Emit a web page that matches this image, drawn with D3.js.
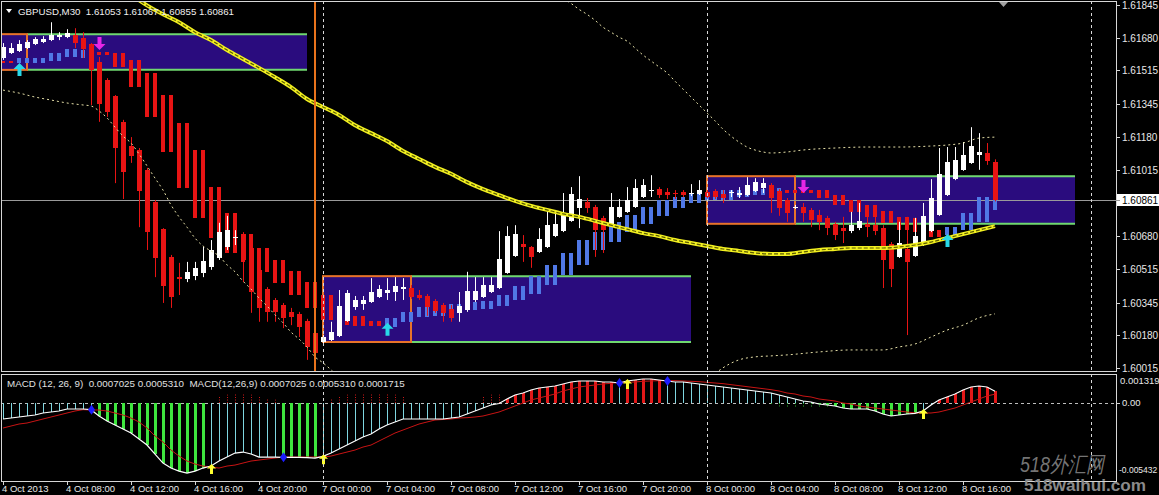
<!DOCTYPE html>
<html><head><meta charset="utf-8">
<script src="https://cdn.jsdelivr.net/npm/d3@7/dist/d3.min.js"></script>
<style>
html,body{margin:0;padding:0;background:#000;overflow:hidden}
svg{display:block}
text{font-family:"Liberation Sans",Arial,sans-serif;white-space:pre}
</style></head><body>
<svg id="chart" width="1159" height="495"></svg>
<script>
// ================= DATA =================
const symbolHeader = "GBPUSD,M30  1.61053 1.61067 1.60855 1.60861";
const macdHeader = "MACD (12, 26, 9)  0.0007025 0.0005310  MACD(12,26,9) 0.0007025 0.0005310 0.0001715";
const timeTickIdx = [0,8,16,24,32,40,48,56,64,72,80,88,96,104,112,120];
const timeTickLabels = ["4 Oct 2013","4 Oct 08:00","4 Oct 12:00","4 Oct 16:00","4 Oct 20:00","7 Oct 00:00","7 Oct 04:00","7 Oct 08:00","7 Oct 12:00","7 Oct 16:00","7 Oct 20:00","8 Oct 00:00","8 Oct 04:00","8 Oct 08:00","8 Oct 12:00","8 Oct 16:00"];
const priceTicks = [1.61845,1.61680,1.61515,1.61345,1.61180,1.61015,1.60680,1.60515,1.60345,1.60180,1.60015];
const lastPrice = 1.60861;
const macdTickTop = 0.001319, macdTickBottomLabel = "-0.005432";

// M30 candles, bar 0 = 4 Oct 04:00 ... bar 124 = 8 Oct 18:00
const open = [1.61578,1.61603,1.61613,1.61628,1.61648,1.61658,1.61668,1.61683,1.61683,1.61693,
1.61678,1.61648,1.61558,1.61466,1.61386,1.61256,1.61134,1.61114,1.61014,1.60852,
1.60715,1.60575,1.60473,1.60463,1.60478,1.60495,1.60525,1.60570,1.60625,1.60670,
1.60690,1.60620,1.60510,1.60413,1.60358,1.60333,1.60298,1.60288,1.60253,1.60191,
1.60146,1.60156,1.60176,1.60253,1.60323,1.60338,1.60348,1.60373,1.60393,1.60398,
1.60413,1.60418,1.60383,1.60378,1.60353,1.60333,1.60313,1.60293,1.60308,1.60358,
1.60373,1.60398,1.60418,1.60495,1.60580,1.60640,1.60625,1.60600,1.60625,1.60680,
1.60705,1.60757,1.60822,1.60852,1.60827,1.60772,1.60742,1.60777,1.60802,1.60827,
1.60877,1.60907,1.60917,1.60902,1.60897,1.60902,1.60892,1.60892,1.60902,1.60907,
1.60892,1.60897,1.60887,1.60887,1.60907,1.60922,1.60937,1.60907,1.60862,1.60822,
1.60827,1.60812,1.60787,1.60772,1.60742,1.60720,1.60705,1.60720,1.60742,1.60735,
1.60720,1.60640,1.60575,1.60615,1.60580,1.60635,1.60705,1.60787,1.60887,1.60967,
1.61014,1.61049,1.61089,1.61099,1.61053];
const high = [1.61653,1.61653,1.61668,1.61668,1.61683,1.61688,1.61758,1.61708,1.61723,1.61728,
1.61708,1.61653,1.61583,1.61476,1.61391,1.61266,1.61179,1.61124,1.61024,1.60862,
1.60720,1.60585,1.60545,1.60550,1.60550,1.60625,1.60660,1.60747,1.60782,1.60710,
1.60700,1.60630,1.60520,1.60423,1.60368,1.60343,1.60318,1.60298,1.60263,1.60201,
1.60181,1.60248,1.60408,1.60408,1.60378,1.60378,1.60468,1.60433,1.60468,1.60473,
1.60468,1.60433,1.60408,1.60388,1.60363,1.60343,1.60333,1.60398,1.60500,1.60473,
1.60473,1.60473,1.60705,1.60730,1.60735,1.60685,1.60630,1.60720,1.60812,1.60797,
1.60897,1.60927,1.60982,1.60872,1.60837,1.60782,1.60897,1.60867,1.60927,1.60967,
1.60967,1.60987,1.60927,1.60922,1.60912,1.60912,1.60942,1.60962,1.60912,1.60917,
1.60912,1.60912,1.60927,1.60977,1.60972,1.60972,1.60947,1.60917,1.60872,1.60837,
1.60847,1.60822,1.60812,1.60782,1.60752,1.60777,1.60802,1.60847,1.60837,1.60837,
1.60735,1.60650,1.60752,1.60777,1.60772,1.60847,1.60967,1.61124,1.61129,1.61129,
1.61154,1.61229,1.61199,1.61149,1.61067];
const low = [1.61568,1.61598,1.61608,1.61623,1.61643,1.61653,1.61663,1.61668,1.61678,1.61628,
1.61578,1.61341,1.61256,1.61281,1.60947,1.60867,1.61049,1.60725,1.60610,1.60473,
1.60343,1.60318,1.60383,1.60448,1.60458,1.60473,1.60510,1.60560,1.60610,1.60635,
1.60448,1.60293,1.60248,1.60248,1.60248,1.60216,1.60231,1.60171,1.60056,1.60041,
1.60131,1.60151,1.60171,1.60248,1.60308,1.60308,1.60343,1.60368,1.60358,1.60353,
1.60358,1.60363,1.60358,1.60278,1.60293,1.60248,1.60248,1.60248,1.60298,1.60348,
1.60368,1.60393,1.60413,1.60490,1.60575,1.60550,1.60520,1.60595,1.60620,1.60675,
1.60700,1.60752,1.60720,1.60797,1.60575,1.60595,1.60730,1.60772,1.60797,1.60822,
1.60872,1.60877,1.60872,1.60867,1.60867,1.60877,1.60882,1.60887,1.60872,1.60867,
1.60847,1.60877,1.60872,1.60882,1.60902,1.60897,1.60797,1.60782,1.60752,1.60817,
1.60752,1.60725,1.60710,1.60685,1.60660,1.60645,1.60695,1.60710,1.60675,1.60685,
1.60418,1.60423,1.60570,1.60181,1.60575,1.60630,1.60700,1.60782,1.60882,1.60962,
1.61009,1.61044,1.61014,1.61039,1.60855];
const close = [1.61633,1.61628,1.61648,1.61658,1.61673,1.61673,1.61693,1.61693,1.61703,1.61653,
1.61623,1.61518,1.61346,1.61306,1.61124,1.61004,1.61084,1.60907,1.60700,1.60570,
1.60428,1.60373,1.60463,1.60500,1.60520,1.60555,1.60610,1.60700,1.60710,1.60675,
1.60560,1.60398,1.60318,1.60298,1.60298,1.60268,1.60273,1.60221,1.60121,1.60091,
1.60171,1.60196,1.60328,1.60393,1.60358,1.60358,1.60398,1.60413,1.60408,1.60428,
1.60423,1.60373,1.60368,1.60323,1.60303,1.60293,1.60268,1.60328,1.60403,1.60403,
1.60433,1.60433,1.60565,1.60680,1.60690,1.60625,1.60575,1.60665,1.60735,1.60742,
1.60797,1.60892,1.60867,1.60822,1.60710,1.60710,1.60827,1.60827,1.60862,1.60922,
1.60937,1.60912,1.60887,1.60887,1.60892,1.60887,1.60897,1.60912,1.60877,1.60877,
1.60872,1.60902,1.60897,1.60937,1.60952,1.60947,1.60872,1.60822,1.60797,1.60827,
1.60797,1.60762,1.60752,1.60720,1.60685,1.60705,1.60735,1.60757,1.60725,1.60705,
1.60560,1.60515,1.60645,1.60550,1.60680,1.60782,1.60872,1.60994,1.61054,1.61064,
1.61089,1.61134,1.61104,1.61059,1.60861];

// H1 trend bars (one per pair of M30 bars)
const trendTop = [1.61563,1.61578,1.61578,1.61603,1.61623,1.61618,1.61608,1.61603,1.61568,1.61503,1.61391,1.61251,1.61114,1.60927,1.60797,1.60690,1.60620,1.60560,1.60505,1.60448,1.60383,1.60283,1.60278,1.60253,1.60268,1.60298,1.60323,1.60333,1.60338,1.60348,1.60353,1.60383,1.60428,1.60478,1.60535,1.60595,1.60660,1.60700,1.60752,1.60787,1.60827,1.60862,1.60877,1.60892,1.60902,1.60912,1.60912,1.60917,1.60922,1.60912,1.60912,1.60912,1.60887,1.60862,1.60837,1.60807,1.60777,1.60772,1.60710,1.60725,1.60797,1.60877,1.60947];
const trendBottom = [1.61553,1.61553,1.61553,1.61563,1.61583,1.61578,1.61593,1.61533,1.61431,1.61281,1.61104,1.60922,1.60772,1.60670,1.60595,1.60550,1.60500,1.60443,1.60383,1.60318,1.60258,1.60233,1.60226,1.60226,1.60221,1.60248,1.60273,1.60278,1.60298,1.60308,1.60313,1.60328,1.60358,1.60388,1.60433,1.60483,1.60535,1.60610,1.60650,1.60700,1.60742,1.60782,1.60822,1.60847,1.60862,1.60862,1.60877,1.60887,1.60902,1.60897,1.60897,1.60872,1.60837,1.60802,1.60777,1.60747,1.60710,1.60700,1.60675,1.60685,1.60710,1.60752,1.60812];
const trendUp = [0,1,1,1,1,1,0,0,0,0,0,0,0,0,0,0,0,0,0,0,0,0,0,0,1,1,1,1,1,1,1,1,1,1,1,1,1,1,1,1,1,1,1,1,1,1,1,1,1,0,0,0,0,0,0,0,0,0,0,1,1,1,1];

// moving average (sampled every 2 bars from bar 16)
const maIdx = [16,18,20,22,24,26,28,30,32,34,36,38,40,42,44,46,48,50,52,54,56,58,60,62,64,66,68,70,72,74,76,78,80,82,84,86,88,90,92,94,96,98,100,102,104,106,108,110,112,114,116,118,120,122,124];
const maVal = [1.61898,1.61843,1.61798,1.61758,1.61708,1.61668,1.61618,1.61573,1.61528,1.61481,1.61431,1.61371,1.61331,1.61291,1.61239,1.61199,1.61159,1.61109,1.61069,1.61029,1.60994,1.60952,1.60917,1.60887,1.60857,1.60832,1.60812,1.60792,1.60777,1.60757,1.60735,1.60715,1.60695,1.60680,1.60660,1.60645,1.60630,1.60615,1.60605,1.60595,1.60590,1.60590,1.60600,1.60610,1.60615,1.60620,1.60620,1.60620,1.60625,1.60635,1.60650,1.60670,1.60690,1.60710,1.60730];

// dotted bands
const bandLowAIdx = [0,2,4,6,8,10,11,12,13,14,15,16,17,18,19,20,21,22,23,24,25,26,27,28,29,30,31,32,33,34,35,36,37,38,39,40,41,42];
const bandLowAVal = [1.61416,1.61401,1.61381,1.61366,1.61351,1.61341,1.61336,1.61311,1.61276,1.61229,1.61184,1.61149,1.61094,1.61034,1.60972,1.60912,1.60837,1.60777,1.60725,1.60670,1.60630,1.60605,1.60580,1.60535,1.60500,1.60453,1.60413,1.60368,1.60328,1.60283,1.60243,1.60196,1.60161,1.60121,1.60071,1.60041,1.60006,1.59966];
const bandUpIdx = [70,71,72,73,74,75,76,77,78,79,80,81,82,83,84,85,86,87,88,89,90,91,92,93,94,95,96,98,100,104,108,112,116,118,120,122,124];
const bandUpVal = [1.61878,1.61853,1.61823,1.61798,1.61768,1.61733,1.61708,1.61683,1.61663,1.61628,1.61593,1.61563,1.61533,1.61503,1.61461,1.61421,1.61381,1.61341,1.61301,1.61261,1.61219,1.61184,1.61154,1.61129,1.61114,1.61104,1.61099,1.61104,1.61114,1.61124,1.61129,1.61129,1.61134,1.61139,1.61149,1.61174,1.61179];
const bandLowCIdx = [89,90,92,94,96,98,102,106,110,112,114,116,118,120,122,124];
const bandLowCVal = [1.59986,1.60016,1.60056,1.60071,1.60076,1.60081,1.60096,1.60106,1.60106,1.60121,1.60136,1.60171,1.60206,1.60231,1.60268,1.60288];

// daily range boxes
const boxStartIdx = [-8,40,88];
const boxRangeEndIdx = [3,51,99];
const boxEndIdx = [38,86,134];
const boxHigh = [1.61698,1.60478,1.60982];
const boxLow = [1.61518,1.60146,1.60742];
const daySepIdx = [40,88,136];
const orangeLineIdx = 39;

// signal arrows on price
const upArrowIdx = [2,48,118];
const upArrowPrice = [1.61553,1.60243,1.60690];
const downArrowIdx = [12,100];
const downArrowPrice = [1.61618,1.60897];

// MACD (units of 1e-4)
const macd = [-9.6,-9.0,-8.4,-7.8,-7.2,-6.0,-5.4,-4.8,-3.6,-3.6,
-3.6,-4.0,-7.8,-10.8,-13.2,-15.6,-18.0,-21.6,-25.2,-30.6,
-36.0,-39.0,-40.8,-42.0,-40.8,-39.0,-37.8,-34.8,-32.4,-30.0,
-29.4,-30.6,-32.4,-32.4,-32.4,-32.6,-32.6,-32.6,-32.8,-33.0,
-32.0,-30.0,-27.6,-25.2,-22.8,-20.4,-18.6,-15.6,-13.2,-11.4,
-9.6,-9.6,-9.6,-9.6,-9.6,-9.6,-9.0,-8.4,-6.6,-4.8,
-3.0,-1.2,-0.3,2.4,4.8,6.0,7.8,9.0,9.6,10.2,
11.4,12.6,13.2,13.2,13.2,12.6,12.6,12.0,13.2,13.8,
14.4,14.4,13.8,13.2,12.6,12.6,12.0,11.4,10.8,10.2,
9.6,9.0,8.4,7.8,7.2,6.6,6.0,4.8,3.6,2.4,
1.2,0.6,-0.6,-1.2,-1.8,-3.0,-3.6,-3.6,-3.6,-4.8,
-6.6,-7.8,-7.2,-6.6,-6.2,-4.8,-1.2,1.8,3.6,5.4,
7.8,9.6,10.2,9.6,7.025];
const signal = [-15.0,-13.8,-12.6,-12.0,-10.8,-9.6,-8.4,-7.2,-6.0,-4.8,
-4.0,-4.2,-4.2,-4.8,-6.0,-7.2,-9.0,-11.4,-15.0,-19.8,
-23.4,-28.2,-31.8,-34.8,-36.6,-37.8,-38.4,-39.0,-37.8,-37.2,
-36.0,-34.8,-34.2,-33.6,-33.0,-32.4,-32.4,-32.4,-32.4,-32.4,
-32.4,-31.8,-30.6,-29.4,-28.2,-26.4,-25.2,-22.8,-20.4,-18.0,
-16.2,-14.4,-12.6,-11.4,-10.2,-9.9,-9.6,-9.0,-8.8,-8.4,
-7.8,-6.6,-5.4,-3.6,-1.8,0.0,1.8,3.0,4.2,5.4,
7.2,8.4,9.6,10.2,10.8,11.4,11.8,12.3,12.4,12.6,
13.0,13.2,13.4,13.4,13.4,13.2,13.0,12.8,12.4,12.0,
11.6,11.0,10.4,9.8,9.2,8.6,8.0,7.2,6.0,5.4,
4.2,3.6,2.4,1.8,1.2,0.0,-0.6,-1.8,-2.4,-3.0,
-3.6,-4.2,-4.8,-5.4,-6.0,-6.0,-6.0,-5.4,-4.2,-3.0,
-1.2,0.6,2.4,4.2,5.31];
const osmaIdx = [27,28,29,30,31,32,33,34,41,42,43,44,45,46,47,48,49,50,60,61,62,96,97,98,99,100,101,102,103];
const osmaVal = [4,5,6,6,5,4,3,2,3,4,5,6,6,6,6,6,5,4,4,5,5,-1.5,-2,-2.5,-2.5,-3,-3,-3,-3];
const crossDownIdx = [11,35,77,83];
const crossUpIdx = [26,40,78,115];

// ================= DRAW =================
const svg = d3.select("#chart");
const N = open.length;
const mainL = 1, mainR = 1116, mainT = 1, mainB = 371;
const macdT = 374, macdB = 481;

const x = d3.scaleLinear().domain([0, 124]).range([3, 995]);
const px = i => Math.round(x(i));
const y = d3.scaleLinear().domain([1.60015, 1.61845]).range([368, 5]);
const ym = d3.scaleLinear().domain([0, macdTickTop * 1e4]).range([403, 381]);

svg.append("rect").attr("width", 1159).attr("height", 495).attr("fill", "#000");

const defs = svg.append("defs");
defs.append("clipPath").attr("id", "clipMain").append("rect")
  .attr("x", mainL).attr("y", mainT).attr("width", mainR - mainL).attr("height", mainB - mainT);
defs.append("clipPath").attr("id", "clipMacd").append("rect")
  .attr("x", mainL).attr("y", macdT).attr("width", mainR - mainL).attr("height", macdB - macdT);

const gMain = svg.append("g").attr("clip-path", "url(#clipMain)");
const gMacd = svg.append("g").attr("clip-path", "url(#clipMacd)");

// ---- boxes ----
const boxes = d3.range(boxStartIdx.length);
gMain.selectAll("rect.box").data(boxes).join("rect")
  .attr("x", k => x(boxStartIdx[k])).attr("y", k => y(boxHigh[k]))
  .attr("width", k => x(boxEndIdx[k]) - x(boxStartIdx[k]))
  .attr("height", k => y(boxLow[k]) - y(boxHigh[k]))
  .attr("fill", "#2a0c7e");
[boxHigh, boxLow].forEach(arr => {
  gMain.selectAll(null).data(boxes).join("line")
    .attr("x1", k => x(boxRangeEndIdx[k])).attr("x2", k => x(boxEndIdx[k]))
    .attr("y1", k => y(arr[k])).attr("y2", k => y(arr[k]))
    .attr("stroke", "#6fd86f").attr("stroke-width", 2);
});
gMain.selectAll("rect.obox").data(boxes).join("rect")
  .attr("x", k => x(boxStartIdx[k])).attr("y", k => y(boxHigh[k]))
  .attr("width", k => x(boxRangeEndIdx[k]) - x(boxStartIdx[k]))
  .attr("height", k => y(boxLow[k]) - y(boxHigh[k]))
  .attr("fill", "none").attr("stroke", "#e8732a").attr("stroke-width", 2);

// ---- current price line ----
gMain.append("line").attr("x1", mainL).attr("x2", mainR)
  .attr("y1", Math.round(y(lastPrice)) + 0.5).attr("y2", Math.round(y(lastPrice)) + 0.5)
  .attr("stroke", "#9a9a9a").attr("stroke-width", 1);

// ---- period separators ----
daySepIdx.forEach(i => {
  [[mainT, mainB], [macdT, macdB]].forEach(([a, b]) => {
    svg.append("line").attr("x1", px(i) + 0.5).attr("x2", px(i) + 0.5).attr("y1", a).attr("y2", b)
      .attr("stroke", "#d8d8d8").attr("stroke-dasharray", "3,3").attr("stroke-width", 1);
  });
});

// ---- trend bars (H1) ----
const trendBars = [];
trendTop.forEach((t, k) => {
  [2 * k, 2 * k + 1].forEach(i => { if (i < N) trendBars.push({ i, k }); });
});
gMain.selectAll("rect.tb").data(trendBars).join("rect")
  .attr("x", d => px(d.i) - 2).attr("width", 4)
  .attr("y", d => Math.round(y(trendTop[d.k])))
  .attr("height", d => Math.max(2, Math.round(y(trendBottom[d.k]) - y(trendTop[d.k]))))
  .attr("fill", d => trendUp[d.k] ? "#5078e6" : "#e81414")
  .attr("shape-rendering", "crispEdges");

// ---- candles ----
const bars = d3.range(N);
const isUp = i => close[i] >= open[i];
gMain.selectAll("line.wick").data(bars).join("line")
  .attr("x1", i => px(i) + 0.5).attr("x2", i => px(i) + 0.5)
  .attr("y1", i => y(high[i])).attr("y2", i => y(low[i]))
  .attr("stroke", i => isUp(i) ? "#ffffff" : "#e81414").attr("stroke-width", 1);
gMain.selectAll("rect.body").data(bars).join("rect")
  .attr("x", i => px(i) - 2).attr("width", 5)
  .attr("y", i => Math.round(y(Math.max(open[i], close[i]))))
  .attr("height", i => Math.max(1, Math.round(Math.abs(y(open[i]) - y(close[i])))))
  .attr("fill", i => isUp(i) ? "#ffffff" : "#e81414")
  .attr("shape-rendering", "crispEdges");

// ---- dotted bands ----
[[bandLowAIdx, bandLowAVal], [bandUpIdx, bandUpVal], [bandLowCIdx, bandLowCVal]].forEach(([ix, vs]) => {
  gMain.append("path")
    .attr("d", d3.line().x((d, j) => x(ix[j])).y(d => y(d)).curve(d3.curveMonotoneX)(vs))
    .attr("fill", "none").attr("stroke", "#e6e0a8").attr("stroke-width", 1).attr("stroke-dasharray", "2,3");
});

// ---- moving average ----
const maPath = d3.line().x((d, j) => x(maIdx[j])).y(d => y(d)).curve(d3.curveMonotoneX)(maVal);
gMain.append("path").attr("d", maPath).attr("fill", "none").attr("stroke", "#f2f020").attr("stroke-width", 4);
gMain.append("path").attr("d", maPath).attr("fill", "none").attr("stroke", "#5a5a00").attr("stroke-width", 1.2).attr("stroke-dasharray", "4,2");

// ---- orange vertical line ----
gMain.append("line").attr("x1", px(orangeLineIdx)).attr("x2", px(orangeLineIdx))
  .attr("y1", mainT).attr("y2", mainB).attr("stroke", "#e8731c").attr("stroke-width", 2);

// ---- arrows ----
const upArrow = "M0,0 L6,6 L2,6 L2,13 L-2,13 L-2,6 L-6,6 Z";
const dnArrow = "M0,0 L6,-6 L2,-6 L2,-13 L-2,-13 L-2,-6 L-6,-6 Z";
upArrowIdx.forEach((i, j) => {
  gMain.append("path").attr("d", upArrow).attr("transform", `translate(${px(i) + 0.5},${y(upArrowPrice[j])})`).attr("fill", "#28d8e8");
});
downArrowIdx.forEach((i, j) => {
  gMain.append("path").attr("d", dnArrow).attr("transform", `translate(${px(i) + 0.5},${y(downArrowPrice[j])})`).attr("fill", "#e626e6");
});

// ---- MACD panel ----
gMacd.append("line").attr("x1", mainL).attr("x2", mainR).attr("y1", ym(0) + 0.5).attr("y2", ym(0) + 0.5)
  .attr("stroke", "#bdbdbd").attr("stroke-dasharray", "3,3");
// OsMA dotted
gMacd.selectAll("line.osma").data(osmaIdx).join("line")
  .attr("x1", i => px(i) + 0.5).attr("x2", i => px(i) + 0.5)
  .attr("y1", ym(0)).attr("y2", (i, j) => ym(osmaVal[j]))
  .attr("stroke", (i, j) => osmaVal[j] > 0 ? "#d01818" : "#2fb82f").attr("stroke-dasharray", "1,1.5");
// histogram
const histKind = i => {
  const v = macd[i], s = signal[i];
  if (v > 0 && v > s) return "red";
  if (v < 0 && v < s) return "green";
  return "thin";
};
gMacd.selectAll("rect.hist").data(bars.filter(i => histKind(i) !== "thin")).join("rect")
  .attr("x", i => px(i) - 1).attr("width", 3)
  .attr("y", i => Math.min(ym(0), ym(macd[i])))
  .attr("height", i => Math.abs(ym(macd[i]) - ym(0)))
  .attr("fill", i => histKind(i) === "red" ? "#e21818" : "#3ee63e")
  .attr("shape-rendering", "crispEdges");
gMacd.selectAll("line.hist").data(bars.filter(i => histKind(i) === "thin")).join("line")
  .attr("x1", i => px(i) + 0.5).attr("x2", i => px(i) + 0.5)
  .attr("y1", ym(0)).attr("y2", i => ym(macd[i]))
  .attr("stroke", "#7fd6e0").attr("stroke-width", 1);
// lines
gMacd.append("path").attr("d", d3.line().x((d, i) => x(i)).y(d => ym(d))(signal))
  .attr("fill", "none").attr("stroke", "#c81414").attr("stroke-width", 1);
gMacd.append("path").attr("d", d3.line().x((d, i) => x(i)).y(d => ym(d))(macd))
  .attr("fill", "none").attr("stroke", "#ffffff").attr("stroke-width", 1.2);
// cross markers
crossDownIdx.forEach(i => {
  gMacd.append("path").attr("d", "M0,-5 L3.5,0 L0,5 L-3.5,0 Z")
    .attr("transform", `translate(${px(i) + 0.5},${ym(macd[i])})`).attr("fill", "#1c1cff");
});
crossUpIdx.forEach(i => {
  gMacd.append("path").attr("d", "M0,0 L4.5,4.5 L1.5,4.5 L1.5,10 L-1.5,10 L-1.5,4.5 L-4.5,4.5 Z")
    .attr("transform", `translate(${px(i) + 0.5},${ym(macd[i]) - 2})`).attr("fill", "#ffff30");
});

// ---- frames ----
svg.append("rect").attr("x", mainL + 0.5).attr("y", mainT + 0.5).attr("width", mainR - mainL).attr("height", mainB - mainT)
  .attr("fill", "none").attr("stroke", "#d6d6d6");
svg.append("rect").attr("x", mainL + 0.5).attr("y", macdT + 0.5).attr("width", mainR - mainL).attr("height", macdB - macdT)
  .attr("fill", "none").attr("stroke", "#d6d6d6");

// ---- price axis ----
const yAxis = svg.append("g");
priceTicks.forEach(p => {
  const yy = Math.round(y(p)) + 0.5;
  yAxis.append("line").attr("x1", mainR).attr("x2", mainR + 4).attr("y1", yy).attr("y2", yy).attr("stroke", "#d6d6d6");
  yAxis.append("text").attr("x", 1122).attr("y", yy).attr("dy", "0.35em").attr("font-size", 10).attr("fill", "#e8e8e8").text(p.toFixed(5));
});
const ly = Math.round(y(lastPrice));
svg.append("rect").attr("x", mainR + 1).attr("y", ly - 6).attr("width", 1159 - mainR - 1).attr("height", 12).attr("fill", "#ffffff");
svg.append("line").attr("x1", mainR).attr("x2", mainR + 4).attr("y1", ly + 0.5).attr("y2", ly + 0.5).attr("stroke", "#9a9a9a");
svg.append("text").attr("x", 1122).attr("y", ly).attr("dy", "0.35em").attr("font-size", 10).attr("fill", "#000").text(lastPrice.toFixed(5));

// ---- MACD axis ----
svg.append("text").attr("x", 1120).attr("y", ym(macdTickTop * 1e4)).attr("dy", "0.35em").attr("font-size", 9.5).attr("fill", "#e8e8e8").text(macdTickTop.toFixed(6));
svg.append("line").attr("x1", mainR).attr("x2", mainR + 4).attr("y1", ym(0) + 0.5).attr("y2", ym(0) + 0.5).attr("stroke", "#d6d6d6");
svg.append("text").attr("x", 1122).attr("y", ym(0)).attr("dy", "0.35em").attr("font-size", 9.5).attr("fill", "#e8e8e8").text("0.00");
svg.append("text").attr("x", 1119).attr("y", macdB - 11).attr("dy", "0.35em").attr("font-size", 8.5).attr("fill", "#e8e8e8").text(macdTickBottomLabel);

// ---- time axis ----
timeTickIdx.forEach((i, j) => {
  svg.append("line").attr("x1", px(i) + 0.5).attr("x2", px(i) + 0.5).attr("y1", macdB).attr("y2", macdB + 4).attr("stroke", "#d6d6d6");
  svg.append("text").attr("x", px(i) - 1).attr("y", 492).attr("font-size", 9.5).attr("fill", "#e8e8e8").text(timeTickLabels[j]);
});

// ---- headers ----
svg.append("path").attr("d", "M6,9 L12,9 L9,13 Z").attr("fill", "#ffffff");
svg.append("text").attr("x", 18).attr("y", 15).attr("font-size", 9.7).attr("fill", "#f0f0f0").text(symbolHeader);
svg.append("text").attr("x", 7).attr("y", 387).attr("font-size", 9.8).attr("fill", "#e0e0e0").text(macdHeader);
svg.append("path").attr("d", "M999,2 L1008,2 L1003.5,7 Z").attr("fill", "#a0a0a0");

// ---- watermark ----
svg.append("text").attr("x", 1020).attr("y", 472).attr("font-family", '"Noto Sans CJK SC"').attr("font-size", 22)
  .attr("font-style", "italic").attr("textLength", 84).attr("lengthAdjust", "spacingAndGlyphs")
  .attr("fill", "#8a8a8a").attr("fill-opacity", 0.85).text("518外汇网");
svg.append("text").attr("x", 1024).attr("y", 491).attr("font-family", '"Liberation Serif"').attr("font-weight", "bold").attr("font-size", 16)
  .attr("textLength", 122).attr("lengthAdjust", "spacingAndGlyphs").attr("fill", "#8a8a8a").text("518waihui.com");
</script>
</body></html>
